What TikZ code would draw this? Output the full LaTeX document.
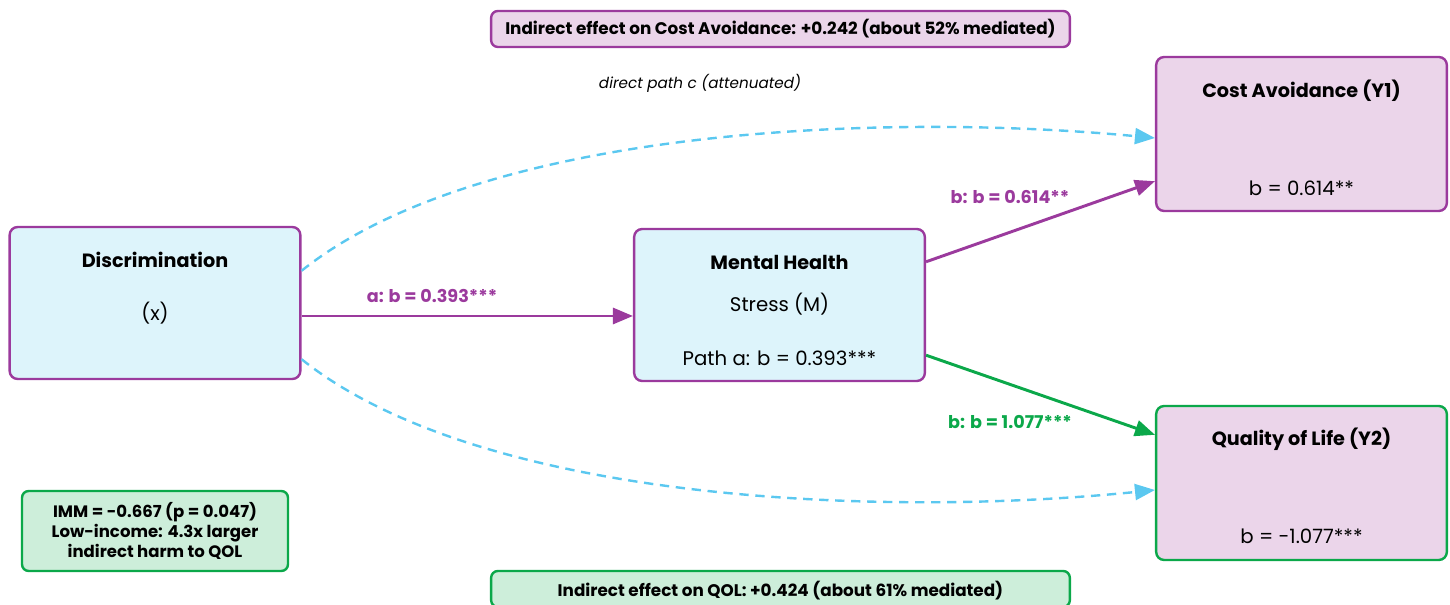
\documentclass[tikz,border=0pt]{standalone}
\usepackage{fontspec}
\setmainfont{Poppins}
\usepackage{xcolor}
\usetikzlibrary{arrows.meta, positioning, calc}

\definecolor{medpurple}{HTML}{9B3A9D}
\definecolor{medgreen}{HTML}{0BA84A}
\definecolor{skyline}{HTML}{5BC8F0}
\definecolor{bluefill}{HTML}{DDF4FB}
\definecolor{pinkfill}{HTML}{EBD5EA}
\definecolor{greenfill}{HTML}{CDEEDA}

\begin{document}
\begin{tikzpicture}[
    x=0.75pt, y=-0.75pt,
    font=\fontsize{11}{13}\selectfont,
    varbox/.style={draw=medpurple, line width=1.8pt, rounded corners=6pt, inner sep=0pt,
        minimum width=218pt, minimum height=114pt},
    notebox/.style={line width=1.8pt, rounded corners=5pt, inner sep=0pt},
    title/.style={font=\fontsize{14.4}{17}\selectfont\bfseries},
    value/.style={font=\fontsize{14.8}{17}\selectfont},
    pathlbl/.style={font=\fontsize{13.2}{15}\selectfont\bfseries},
    direct/.style={draw=skyline, line width=1.8pt, dash pattern=on 7pt off 5pt,
        -{Triangle[length=15pt, width=12pt]}},
    effect/.style={line width=2.2pt, -{Triangle[length=15pt, width=12pt]}}
]
    \useasboundingbox (0,0) rectangle (1450,605);

    % Variables
    \node[varbox, fill=bluefill] (disc) at (155,303) {};
    \node[varbox, fill=bluefill] (mh) at (779.5,305) {};
    \node[varbox, fill=pinkfill, minimum height=115.5pt] (cost) at (1301.5,134) {};
    \node[varbox, fill=pinkfill, draw=medgreen, minimum height=115.5pt] (qol) at (1301.5,483) {};

    \node[title] (discname) at (155,260) {Discrimination};
    \node[value] (discrole) at (155,313) {(x)};
    \node[title] (mhname) at (779.5,262) {Mental Health};
    \node[value] (mhrole) at (779.5,304) {Stress (M)};
    \node[value] (mhcoef) at (779.5,358) {Path a: b = 0.393***};
    \node[title] (costname) at (1301.5,91) {Cost Avoidance (Y1)};
    \node[value] (costcoef) at (1301.5,188) {b = 0.614**};
    \node[title] (qolname) at (1301.5,439) {Quality of Life (Y2)};
    \node[value] (qolcoef) at (1301.5,536) {b = -1.077***};

    % Notes
    \node[notebox, draw=medpurple, fill=pinkfill, minimum width=434pt, minimum height=27pt,
        font=\fontsize{12.6}{15}\selectfont\bfseries] (topnote) at (780.5,29)
        {Indirect effect on Cost Avoidance: +0.242 (about 52\% mediated)};
    \node[notebox, draw=medgreen, fill=greenfill, minimum width=434pt, minimum height=27pt,
        font=\fontsize{12.6}{15}\selectfont\bfseries, text depth=0pt] (botnote) at (780.5,589)
        {Indirect effect on QOL: +0.424 (about 61\% mediated)};
    \node[notebox, draw=medgreen, fill=greenfill, minimum width=199.5pt, minimum height=60pt,
        align=center, font=\fontsize{12.4}{15}\selectfont\bfseries] (imm) at (155,531)
        {IMM = -0.667 (p = 0.047)\\Low-income: 4.3x larger\\indirect harm to QOL};
    \node[font=\fontsize{11.4}{13}\selectfont\itshape] (directlbl) at (700,83) {direct path c (attenuated)};

    % Direct paths
    \draw[direct] ($(disc.north east)+(0,45)$) .. controls (480,128) and (880,112) .. ($(cost.west)+(0,4)$);
    \draw[direct] ($(disc.south east)+(0,-21)$) .. controls (480,502) and (880,518) .. ($(qol.west)+(0,7)$);

    % Indirect paths
    \draw[effect, medpurple] ($(disc.east)+(0,13)$) -- ($(mh.west)+(0,11)$);
    \draw[effect, medpurple] ($(mh.north east)+(0,34)$) -- ($(cost.south west)+(0,-31)$);
    \draw[effect, medgreen] ($(mh.south east)+(0,-27)$) -- ($(qol.north west)+(0,30)$);

    \node[pathlbl, text=medpurple] (alabel) at (432,296) {a: b = 0.393***};
    \node[pathlbl, text=medpurple] (b1label) at (1010,197) {b: b = 0.614**};
    \node[pathlbl, text=medgreen] (b2label) at (1010,422) {b: b = 1.077***};
\end{tikzpicture}
\end{document}
